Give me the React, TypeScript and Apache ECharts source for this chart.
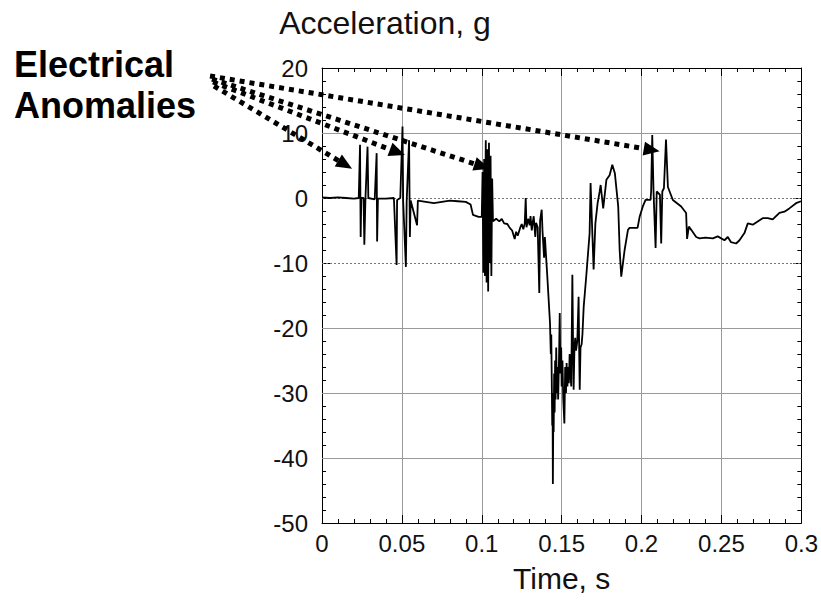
import { useEffect, useRef } from "react";
import * as echarts from "echarts";

// [time (s), acceleration (g)] samples, by segment
const preImpact = [
  [0, 0.1], [0.005, 0], [0.01, 0.1], [0.015, 0], [0.02, -0.1], [0.023, 0], [0.0238, 8.2], [0.0242, -6],
  [0.0246, 0], [0.026, 0], [0.0265, -7.2], [0.0272, 0], [0.0285, 7.9], [0.029, 0], [0.033, -0.2],
  [0.0342, 6.9], [0.0345, -6.7], [0.035, -0.1], [0.04, -0.1], [0.045, 0], [0.0467, -10.3], [0.047, -0.3],
  [0.049, 0], [0.0504, 11], [0.0508, -0.5], [0.0525, -10.6], [0.053, -0.5], [0.0545, 8.9], [0.055, -6],
  [0.0555, -0.4], [0.0595, -4.2], [0.06, -0.4], [0.065, -0.6], [0.07, -0.8], [0.075, -0.6], [0.08, -0.4],
  [0.085, -0.5], [0.09, -0.6], [0.093, -1], [0.0945, -2.6], [0.098, -2.9], [0.1, -2.9],
];
const spikeCluster = [
  [0.1005, 4], [0.101, -11.5], [0.1015, 6], [0.102, -12], [0.1025, 8.9], [0.103, -13], [0.1035, 7.5],
  [0.104, -14.4], [0.1045, 8.5], [0.105, -10], [0.1055, 6.5], [0.106, -12], [0.1065, 3], [0.107, -3.6],
];
const preCrush = [
  [0.109, -3.2], [0.111, -3.6], [0.1125, -3.2], [0.114, -3.9], [0.116, -4.0], [0.1175, -4.6],
  [0.119, -5.0], [0.1206, -6.3], [0.1215, -5.2], [0.1225, -5.8], [0.124, -4.6], [0.125, -4.0],
  [0.126, -4.8], [0.1269, -3.9], [0.1275, 0], [0.128, -4.5], [0.129, -3.2], [0.13, -4.2],
  [0.1305, -2.8], [0.1313, -5], [0.132, -3.6], [0.1325, -2.8], [0.1335, -6], [0.134, -3.8],
  [0.135, -4.5], [0.136, -14.6], [0.1365, -3.5], [0.1375, -1.8], [0.138, -5], [0.139, -9.2],
  [0.1395, -6], [0.141, -12],
];
const crush = [
  [0.1427, -19.2], [0.1432, -24], [0.1435, -21], [0.1438, -28], [0.1441, -35], [0.1443, -30],
  [0.1445, -44], [0.1448, -32], [0.145, -36], [0.1453, -27], [0.1456, -33], [0.1459, -25],
  [0.1462, -31], [0.1466, -23], [0.147, -30], [0.1474, -26], [0.1478, -31], [0.1484, -24],
  [0.1488, -17.7], [0.1492, -27], [0.1497, -23], [0.15, -29], [0.1505, -25], [0.151, -31],
  [0.1517, -34.7], [0.1522, -26], [0.1527, -30], [0.1531, -25.4], [0.1536, -29], [0.154, -26],
  [0.1545, -28.5], [0.155, -24], [0.1555, -27], [0.156, -29], [0.1567, -11.8], [0.1572, -24],
  [0.1575, -29.5], [0.158, -23], [0.1585, -21.5], [0.159, -23.5], [0.1598, -22], [0.1606, -15.2],
  [0.161, -24], [0.1613, -29.5], [0.1618, -23], [0.1625, -22.5], [0.163, -21], [0.1638, -16.7],
];
const rebound = [
  [0.1654, -12], [0.1675, -5.4], [0.1681, 2.3], [0.1692, -5.4], [0.17, -11], [0.1711, -3.9],
  [0.1725, -0.8], [0.1738, 1.0], [0.1744, 2.0], [0.176, -1.6], [0.178, 2.8], [0.18, 3.5],
  [0.1817, 5.1], [0.1833, 3.8], [0.1854, -1.3], [0.1863, -8], [0.1873, -12.1], [0.1894, -8],
  [0.1915, -4.9], [0.1925, -4.6], [0.1975, -4.6], [0.1988, -2.9], [0.2008, -1.3], [0.2025, -0.3],
  [0.2056, -0.3], [0.206, 1], [0.2067, 9.7], [0.2075, 1], [0.2088, -7.7], [0.2095, 1], [0.2115, 0.5],
  [0.2123, -7], [0.213, 1], [0.214, 1.5], [0.2153, 9], [0.2165, 1.7],
];
const tail = [
  [0.2196, -0.3], [0.2248, -1.3], [0.2279, -2.3], [0.2285, -6.3], [0.2296, -4.4], [0.2311, -4.9],
  [0.2342, -6.0], [0.2363, -6.2], [0.24, -6.1], [0.2446, -6.2], [0.2477, -5.9], [0.2519, -6.5],
  [0.254, -6.0], [0.256, -6.8], [0.2592, -7.0], [0.2613, -6.5], [0.2644, -5.4], [0.2665, -3.9],
  [0.2696, -4.1], [0.2727, -3.6], [0.2758, -3.1], [0.279, -3.1], [0.2821, -3.3], [0.2863, -2.3],
  [0.2894, -2.1], [0.2925, -1.6], [0.2967, -0.8], [0.2998, -0.5],
];

const solidGridValues = [10, -20, -30, -40];
const dottedGridValues = [0, -10];

// arrow tips (time, g) of the "Electrical Anomalies" callouts
const arrowTargets = [
  [0.0188, 4.5],
  [0.0519, 6.6],
  [0.105, 4.5],
  [0.2113, 7.2],
];

const FONT = "'Liberation Sans', Arial, Helvetica, sans-serif";

export default function App() {
  const ref = useRef<HTMLDivElement>(null);

  useEffect(() => {
    if (!ref.current) return;
    const chart = echarts.init(ref.current, null, { renderer: "svg" });

    const tickCommon = {
      axisLine: { show: true, onZero: false, lineStyle: { color: "#000", width: 1 } },
      axisTick: { show: true, inside: true, length: 8, lineStyle: { color: "#000", width: 1 } },
      minorTick: { show: true, splitNumber: 5, length: 4, lineStyle: { color: "#000", width: 1 } },
    };

    const data = [...preImpact, ...spikeCluster, ...preCrush, ...crush, ...rebound, ...tail];

    chart.setOption({
      animation: false,
      backgroundColor: "#fff",
      grid: { left: 322, top: 68, right: 19, bottom: 79, containLabel: false },
      xAxis: [
        {
          type: "value",
          position: "bottom",
          min: 0,
          max: 0.3,
          interval: 0.05,
          ...tickCommon,
          axisLabel: {
            show: true,
            fontSize: 24,
            fontFamily: FONT,
            color: "#111",
            margin: 8,
            formatter: (v: number) => String(Math.round(v * 100) / 100),
          },
          splitLine: { show: true, lineStyle: { color: "#999", width: 1 } },
          name: "Time, s",
          nameLocation: "middle",
          nameGap: 40,
          nameTextStyle: { fontSize: 30, fontFamily: FONT, color: "#111" },
        },
        {
          type: "value",
          position: "top",
          min: 0,
          max: 0.3,
          interval: 0.05,
          ...tickCommon,
          axisLabel: { show: false },
          splitLine: { show: false },
        },
      ],
      yAxis: [
        {
          type: "value",
          position: "left",
          min: -50,
          max: 20,
          interval: 10,
          ...tickCommon,
          axisLabel: { show: true, fontSize: 24, fontFamily: FONT, color: "#111", margin: 14 },
          splitLine: { show: false },
        },
        {
          type: "value",
          position: "right",
          min: -50,
          max: 20,
          interval: 10,
          ...tickCommon,
          axisLabel: { show: false },
          splitLine: { show: false },
        },
      ],
      series: [
        {
          type: "line",
          xAxisIndex: 0,
          yAxisIndex: 0,
          data,
          showSymbol: false,
          symbol: "none",
          lineStyle: { color: "#000", width: 1.8 },
          z: 3,
          markLine: {
            silent: true,
            symbol: "none",
            z: 1,
            label: { show: false },
            data: [
              ...solidGridValues.map((v) => ({
                yAxis: v,
                lineStyle: { color: "#999", width: 1, type: "solid" },
              })),
              ...dottedGridValues.map((v) => ({
                yAxis: v,
                lineStyle: { color: "#777", width: 1, type: [2, 2] },
              })),
            ],
          },
        },
      ],
    });

    // annotations
    const starts = [
      [214, 86],
      [213, 82],
      [212, 79],
      [210, 76],
    ];
    const arrowEls: any[] = [];
    arrowTargets.forEach((tg, i) => {
      const tip = chart.convertToPixel({ xAxisIndex: 0, yAxisIndex: 0 }, tg) as number[];
      const s = starts[i];
      const dx = tip[0] - s[0];
      const dy = tip[1] - s[1];
      const len = Math.sqrt(dx * dx + dy * dy);
      const ux = dx / len;
      const uy = dy / len;
      const headLen = 16;
      const halfW = 7;
      const bx = tip[0] - ux * headLen;
      const by = tip[1] - uy * headLen;
      const nx = -uy;
      const ny = ux;
      arrowEls.push({
        type: "line",
        shape: { x1: s[0], y1: s[1], x2: bx, y2: by },
        style: { stroke: "#000", lineWidth: 5, lineDash: [5, 5] },
        z: 10,
        silent: true,
      });
      arrowEls.push({
        type: "polygon",
        shape: {
          points: [
            [tip[0], tip[1]],
            [bx + nx * halfW, by + ny * halfW],
            [bx - nx * halfW, by - ny * halfW],
          ],
        },
        style: { fill: "#000" },
        z: 10,
        silent: true,
      });
    });

    chart.setOption({
      graphic: [
        {
          type: "text",
          x: 385,
          y: 23,
          style: {
            text: "Acceleration, g",
            fontSize: 32,
            fontFamily: FONT,
            fill: "#111",
            textAlign: "center",
            textVerticalAlign: "middle",
          },
        },
        {
          type: "text",
          x: 14,
          y: 64,
          style: {
            text: "Electrical",
            fontSize: 36,
            fontWeight: "bold",
            fontFamily: FONT,
            fill: "#000",
            textAlign: "left",
            textVerticalAlign: "middle",
          },
        },
        {
          type: "text",
          x: 14,
          y: 105,
          style: {
            text: "Anomalies",
            fontSize: 36,
            fontWeight: "bold",
            fontFamily: FONT,
            fill: "#000",
            textAlign: "left",
            textVerticalAlign: "middle",
          },
        },
        ...arrowEls,
      ],
    });

    return () => {
      chart.dispose();
    };
  }, []);

  return (
    <div
      ref={ref}
      style={{ position: "fixed", left: 0, top: 0, width: 821, height: 602, background: "#fff" }}
    />
  );
}
